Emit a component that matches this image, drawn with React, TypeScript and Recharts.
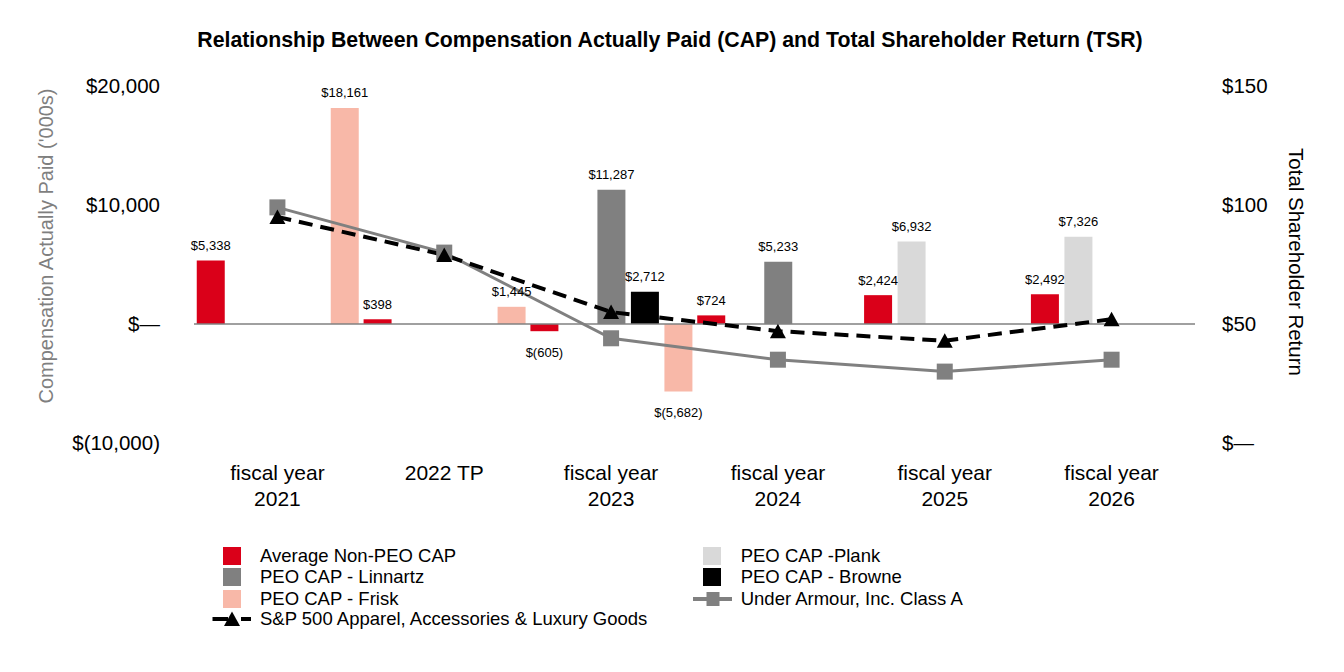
import {
  ComposedChart,
  Bar,
  Line,
  XAxis,
  YAxis,
  ReferenceLine,
  LabelList,
} from "recharts";

const FONT = "'Liberation Sans', Arial, sans-serif";

const categories = [
  "fiscal year 2021",
  "2022 TP",
  "fiscal year 2023",
  "fiscal year 2024",
  "fiscal year 2025",
  "fiscal year 2026",
];

// compensation actually paid, $'000s
const nonPeoCap = [5338, 398, -605, 724, 2424, 2492];
const plankCap = [null, null, null, null, 6932, 7326];
const linnartzCap = [null, null, 11287, 5233, null, null];
const browneCap = [null, null, 2712, null, null, null];
const friskCap = [18161, 1445, -5682, null, null, null];

// total shareholder return, $
const underArmourTsr = [99, 80, 44, 35, 30, 35];
const sp500ApparelTsr = [95, 79, 55, 47, 43, 52];

const capTicks = [-10000, 0, 10000, 20000];
const tsrTicks = [0, 50, 100, 150];

const data = categories.map((c, i) => ({
  category: c,
  nonPeo: nonPeoCap[i],
  plank: plankCap[i],
  linnartz: linnartzCap[i],
  browne: browneCap[i],
  frisk: friskCap[i],
  ua: underArmourTsr[i],
  sp: sp500ApparelTsr[i],
}));

const RED = "#DA0019";
const GREY = "#808080";
const SALMON = "#F8B8A8";
const LIGHT = "#D9D9D9";
const BLACK = "#000000";

const fmtMoney = (v: number) => {
  if (v === 0) return "$\u2014";
  const s = Math.abs(v).toLocaleString("en-US");
  return v < 0 ? `$(${s})` : `$${s}`;
};

const CategoryTick = (props: any) => {
  const { x, y, payload } = props;
  const label: string = payload.value;
  const lines = label.startsWith("fiscal year ")
    ? ["fiscal year", label.slice(12)]
    : [label];
  return (
    <g>
      {lines.map((l, i) => (
        <text
          key={i}
          x={x}
          y={y + 37 + i * 26}
          textAnchor="middle"
          fontSize={21}
          fill="#000"
          fontFamily={FONT}
        >
          {l}
        </text>
      ))}
    </g>
  );
};

const BarValueLabel = (props: any) => {
  const { x, y, width, height, value } = props;
  if (value == null) return null;
  const top = Math.min(y, y + height);
  const bottom = Math.max(y, y + height);
  const cy = value >= 0 ? top - 15 : bottom + 21;
  return (
    <text
      x={x + width / 2}
      y={cy}
      dy="0.35em"
      textAnchor="middle"
      fontSize={13}
      fill="#000"
      fontFamily={FONT}
    >
      {fmtMoney(value)}
    </text>
  );
};

const SquareDot = (p: any) => {
  if (p.cx == null || p.cy == null) return <g key={p.index} />;
  return (
    <rect key={p.index} x={p.cx - 8} y={p.cy - 8} width={16} height={16} fill={GREY} />
  );
};

const TriangleDot = (p: any) => {
  if (p.cx == null || p.cy == null) return <g key={p.index} />;
  const { cx, cy } = p;
  return (
    <polygon
      key={p.index}
      points={`${cx},${cy - 7.5} ${cx + 8},${cy + 7} ${cx - 8},${cy + 7}`}
      fill={BLACK}
    />
  );
};

const legendLeft = [
  { name: "Average Non-PEO CAP", color: RED },
  { name: "PEO CAP - Linnartz", color: GREY },
  { name: "PEO CAP - Frisk", color: SALMON },
];
const legendRight = [
  { name: "PEO CAP -Plank", color: LIGHT },
  { name: "PEO CAP - Browne", color: BLACK },
];
const rowCenters = [547.5, 569, 590.5, 611];

const legendText: React.CSSProperties = {
  position: "absolute",
  fontSize: 18.5,
  fontFamily: FONT,
  color: "#000",
  lineHeight: "22px",
  whiteSpace: "nowrap",
};

export default function App() {
  return (
    <div style={{ position: "relative", width: 1328, height: 656, fontFamily: FONT }}>
      <div
        style={{
          position: "absolute",
          top: 19,
          left: 0,
          width: 1324,
          textAlign: "center",
          fontWeight: "bold",
          fontSize: 21.3,
          lineHeight: "26px",
        }}
      >
        Relationship Between Compensation Actually Paid (CAP) and Total Shareholder Return (TSR)
      </div>

      <div
        style={{
          position: "absolute",
          left: 38 - 200,
          top: 238 - 12,
          width: 400,
          textAlign: "center",
          fontSize: 20,
          lineHeight: "24px",
          color: "#7F7F7F",
          transform: "rotate(-90deg)",
          whiteSpace: "nowrap",
        }}
      >
        Compensation Actually Paid ('000s)
      </div>
      <div
        style={{
          position: "absolute",
          left: 1288 - 200,
          top: 254 - 12,
          width: 400,
          textAlign: "center",
          fontSize: 20.5,
          lineHeight: "24px",
          color: "#000",
          transform: "rotate(90deg)",
          whiteSpace: "nowrap",
        }}
      >
        Total Shareholder Return
      </div>

      <div style={{ position: "absolute", left: 0, top: 0 }}>
        <ComposedChart
          width={1328}
          height={525}
          data={data}
          margin={{ top: 78, right: 0, bottom: 5, left: 0 }}
          barCategoryGap={2.75}
          barGap={5.5}
        >
          <XAxis
            dataKey="category"
            axisLine={false}
            tickLine={false}
            tickSize={0}
            tickMargin={0}
            height={85}
            interval={0}
            tick={<CategoryTick />}
          />
          <YAxis
            yAxisId="cap"
            orientation="left"
            width={186}
            domain={[-10000, 20000]}
            ticks={capTicks}
            axisLine={false}
            tickLine={false}
            tickSize={0}
            tickMargin={34}
            tickFormatter={fmtMoney}
            tick={{ fontSize: 20.5, fill: "#000", fontFamily: FONT }}
          />
          <YAxis
            yAxisId="tsr"
            orientation="right"
            width={141}
            domain={[0, 150]}
            ticks={tsrTicks}
            axisLine={false}
            tickLine={false}
            tickSize={0}
            tickMargin={27}
            tickFormatter={fmtMoney}
            tick={{ fontSize: 20.5, fill: "#000", fontFamily: FONT }}
          />
          <ReferenceLine yAxisId="cap" y={0} stroke={GREY} strokeWidth={1.5} />
          <Bar yAxisId="cap" dataKey="nonPeo" fill={RED} isAnimationActive={false}>
            <LabelList dataKey="nonPeo" content={<BarValueLabel />} />
          </Bar>
          <Bar yAxisId="cap" dataKey="plank" fill={LIGHT} isAnimationActive={false}>
            <LabelList dataKey="plank" content={<BarValueLabel />} />
          </Bar>
          <Bar yAxisId="cap" dataKey="linnartz" fill={GREY} isAnimationActive={false}>
            <LabelList dataKey="linnartz" content={<BarValueLabel />} />
          </Bar>
          <Bar yAxisId="cap" dataKey="browne" fill={BLACK} isAnimationActive={false}>
            <LabelList dataKey="browne" content={<BarValueLabel />} />
          </Bar>
          <Bar yAxisId="cap" dataKey="frisk" fill={SALMON} isAnimationActive={false}>
            <LabelList dataKey="frisk" content={<BarValueLabel />} />
          </Bar>
          <Line
            yAxisId="tsr"
            dataKey="ua"
            stroke={GREY}
            strokeWidth={3}
            dot={SquareDot}
            activeDot={false}
            isAnimationActive={false}
          />
          <Line
            yAxisId="tsr"
            dataKey="sp"
            stroke={BLACK}
            strokeWidth={4}
            strokeDasharray="14 8"
            dot={TriangleDot}
            activeDot={false}
            isAnimationActive={false}
          />
        </ComposedChart>
      </div>

      {legendLeft.map((item, i) => (
        <div key={item.name}>
          <div
            style={{
              position: "absolute",
              left: 214.7,
              top: rowCenters[i] - 9,
              width: 18,
              height: 18,
              background: item.color,
            }}
          />
          <div style={{ ...legendText, left: 252, top: rowCenters[i] - 11 }}>{item.name}</div>
        </div>
      ))}
      {legendRight.map((item, i) => (
        <div key={item.name}>
          <div
            style={{
              position: "absolute",
              left: 694.7,
              top: rowCenters[i] - 9,
              width: 18,
              height: 18,
              background: item.color,
            }}
          />
          <div style={{ ...legendText, left: 732.7, top: rowCenters[i] - 11 }}>{item.name}</div>
        </div>
      ))}

      <svg
        style={{ position: "absolute", left: 204, top: rowCenters[3] - 10 }}
        width={42}
        height={20}
      >
        <line x1={0.5} y1={10} x2={16} y2={10} stroke={BLACK} strokeWidth={4} />
        <line x1={29} y1={10} x2={39} y2={10} stroke={BLACK} strokeWidth={4} />
        <polygon points="20,2.5 28,17 12,17" fill={BLACK} />
      </svg>
      <div style={{ ...legendText, left: 252, top: rowCenters[3] - 11 }}>
        S&amp;P 500 Apparel, Accessories &amp; Luxury Goods
      </div>

      <svg
        style={{ position: "absolute", left: 684.7, top: rowCenters[2] - 10 }}
        width={42}
        height={20}
      >
        <line x1={0} y1={10} x2={39} y2={10} stroke={GREY} strokeWidth={4} />
        <rect x={13.5} y={3} width={13} height={14} fill={GREY} />
      </svg>
      <div style={{ ...legendText, left: 732.7, top: rowCenters[2] - 11 }}>
        Under Armour, Inc. Class A
      </div>
    </div>
  );
}
